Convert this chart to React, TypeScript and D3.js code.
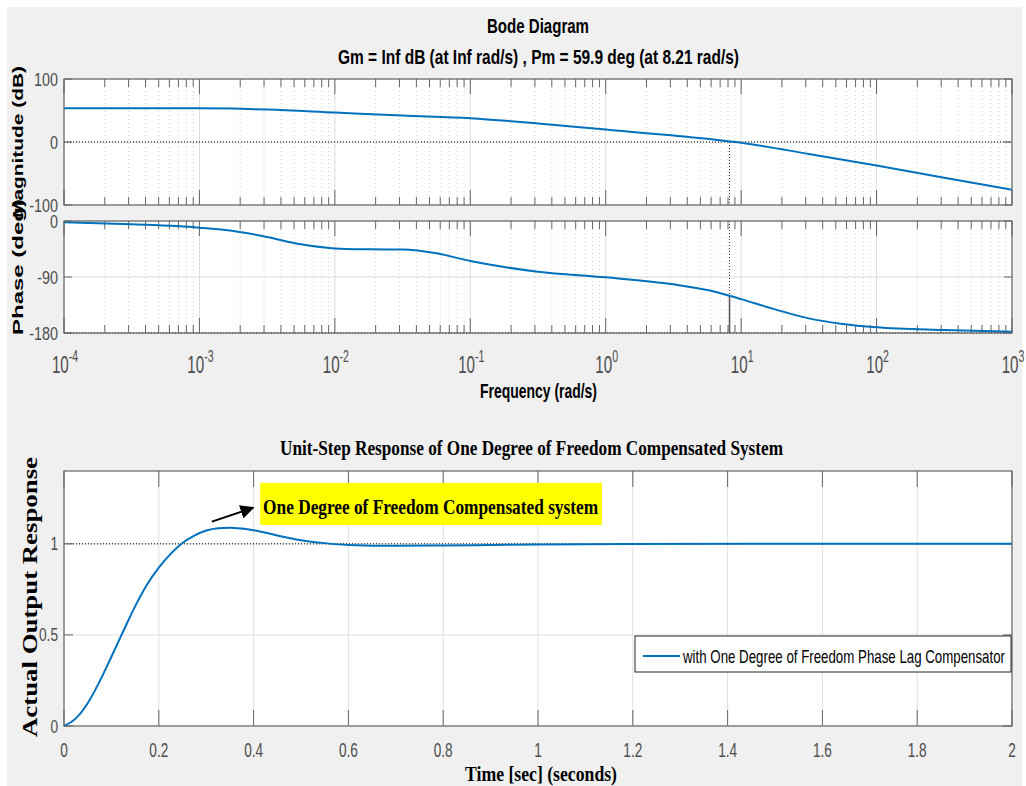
import React from 'react';
import * as d3 from 'd3';

// Bode magnitude (rad/s -> dB)
const magFreq = [1e-4, 3.16e-4, 1e-3, 1.78e-3, 3.16e-3, 1e-2, 3.16e-2, 1e-1, 3.16e-1, 1, 3.16, 10, 31.6, 100, 316, 1000];
const magDb = [53.6, 53.6, 53.5, 53.0, 51.6, 46.8, 42.0, 37.8, 29.5, 19.8, 10.3, -1.3, -18.9, -37.3, -56.8, -75.9];

// Bode phase (rad/s -> deg)
const phaseFreq = [1e-4, 3.16e-4, 1e-3, 1.78e-3, 3.16e-3, 5.62e-3, 1e-2, 1.78e-2, 3.16e-2, 5.62e-2, 1e-1, 1.78e-1, 3.16e-1, 1, 3.16, 5.62, 8.21, 10, 17.8, 31.6, 56.2, 100, 316, 1000];
const phaseDeg = [-2.1, -5.4, -10.7, -16, -25.7, -37.5, -44, -45.5, -46, -52, -64.3, -74, -81.5, -90.5, -101.8, -110.9, -120.1, -125.5, -142, -156.5, -165.5, -170.9, -175.2, -177.9];

// phase margin point
const pmFreq = 8.21;
const pmPhase = -120.1;

const magTicks = [-100, 0, 100];
const phaseTicks = [0, -90, -180];
const decadeExps = [-4, -3, -2, -1, 0, 1, 2, 3];

// unit-step response (seconds -> output)
const stepT = [0, 0.025, 0.05, 0.075, 0.1, 0.125, 0.15, 0.175, 0.2, 0.225, 0.25, 0.275, 0.3, 0.325, 0.35, 0.375, 0.4, 0.45, 0.5, 0.55, 0.6, 0.7, 0.8, 0.9, 1.0, 1.2, 1.5, 2.0];
const stepY = [0, 0.042, 0.125, 0.244, 0.38, 0.52, 0.657, 0.776, 0.87, 0.945, 1.005, 1.045, 1.073, 1.086, 1.089, 1.084, 1.075, 1.046, 1.02, 1.004, 0.994, 0.989, 0.991, 0.994, 0.997, 0.999, 1.0, 1.0];
const stepXTicks = [0, 0.2, 0.4, 0.6, 0.8, 1, 1.2, 1.4, 1.6, 1.8, 2];
const stepYTicks = [0, 0.5, 1];

const bodeTitle = 'Bode Diagram';
const bodeSubtitle = 'Gm = Inf dB (at Inf rad/s) ,  Pm = 59.9 deg (at 8.21 rad/s)';
const stepTitle = 'Unit-Step Response of One Degree of Freedom Compensated System';
const annotation = 'One Degree of Freedom Compensated system';
const legendLabel = 'with One Degree of Freedom Phase Lag Compensator';

const sans = "'Liberation Sans', Arial, sans-serif";
const serif = "'Liberation Serif', 'Times New Roman', serif";
const blue = '#0072bd';
const tickCol = '#4d4d4d';
const boxCol = '#666';

// horizontally squeezed label, like the narrow glyphs in the picture
function Squeezed(props: { x: number; y: number; sx: number; size: number; anchor?: string; fill?: string; width?: number; children: React.ReactNode }) {
  const { x, y, sx, size, anchor = 'middle', fill = tickCol, width, children } = props;
  const extra = width ? { textLength: width / sx, lengthAdjust: 'spacingAndGlyphs' } : {};
  return (
    <text transform={`translate(${x},${y}) scale(${sx},1)`} textAnchor={anchor} fontFamily={sans} fontSize={size} fill={fill} {...extra}>
      {children}
    </text>
  );
}

export default function App() {
  const L = 64, R = 1012;
  const fx = d3.scaleLog().domain([1e-4, 1e3]).range([L, R]);
  const my = d3.scaleLinear().domain([-100, 100]).range([205, 79]);
  const py = d3.scaleLinear().domain([-180, 0]).range([333, 221]);
  const sx = d3.scaleLinear().domain([0, 2]).range([L, R]);
  const sy = d3.scaleLinear().domain([0, 1.4]).range([726, 471]);

  const minorFreqs: number[] = [];
  for (let e = -4; e < 3; e++) for (let k = 2; k <= 9; k++) minorFreqs.push(k * Math.pow(10, e));
  const majorFreqs = decadeExps.map(e => Math.pow(10, e));

  const magLine = d3.line<number>().x((_, i) => fx(magFreq[i])).y(d => my(d)).curve(d3.curveMonotoneX);
  const phaseLine = d3.line<number>().x((_, i) => fx(phaseFreq[i])).y(d => py(d)).curve(d3.curveMonotoneX);
  const stepLine = d3.line<number>().x((_, i) => sx(stepT[i])).y(d => sy(d)).curve(d3.curveMonotoneX);

  const bodePanel = (yScale: d3.ScaleLinear<number, number>, top: number, bottom: number, yTicks: number[], key: string) => (
    <g key={key}>
      <rect x={L} y={top} width={R - L} height={bottom - top} fill="#fff" />
      {minorFreqs.map((f, i) => (
        <line key={'mg' + i} x1={fx(f)} x2={fx(f)} y1={top} y2={bottom} stroke="#cfcfcf" strokeDasharray="1,3" />
      ))}
      {majorFreqs.map((f, i) => (
        <line key={'Mg' + i} x1={fx(f)} x2={fx(f)} y1={top} y2={bottom} stroke="#dcdcdc" />
      ))}
      {yTicks.map((t, i) => (
        <line key={'yg' + i} x1={L} x2={R} y1={yScale(t)} y2={yScale(t)} stroke="#dcdcdc" />
      ))}
      {minorFreqs.map((f, i) => (
        <g key={'mt' + i} stroke={boxCol}>
          <line x1={fx(f)} x2={fx(f)} y1={top} y2={top + 8} />
          <line x1={fx(f)} x2={fx(f)} y1={bottom} y2={bottom - 8} />
        </g>
      ))}
      {majorFreqs.map((f, i) => (
        <g key={'Mt' + i} stroke={boxCol}>
          <line x1={fx(f)} x2={fx(f)} y1={top} y2={top + 15} />
          <line x1={fx(f)} x2={fx(f)} y1={bottom} y2={bottom - 15} />
        </g>
      ))}
      {yTicks.map((t, i) => (
        <g key={'yt' + i}>
          <line x1={L} x2={L + 8} y1={yScale(t)} y2={yScale(t)} stroke={boxCol} />
          <line x1={R} x2={R - 8} y1={yScale(t)} y2={yScale(t)} stroke={boxCol} />
          <Squeezed x={L - 6} y={yScale(t) + 6.5} sx={0.8} size={18} anchor="end">{t}</Squeezed>
        </g>
      ))}
    </g>
  );

  return (
    <svg width={1026} height={786} style={{ position: 'absolute', left: 0, top: 0 }}>
      <rect x={0} y={0} width={1026} height={786} fill="#fff" />
      <rect x={7} y={7} width={1015} height={779} fill="#f0f0f0" />

      {/* Bode titles */}
      <text x={538} y={33} textAnchor="middle" fontFamily={sans} fontWeight="bold" fontSize={20} fill="#000" textLength={102} lengthAdjust="spacingAndGlyphs">{bodeTitle}</text>
      <text x={538.5} y={64} textAnchor="middle" fontFamily={sans} fontWeight="bold" fontSize={21} fill="#000" textLength={401} lengthAdjust="spacingAndGlyphs">{bodeSubtitle}</text>

      {bodePanel(my, 79, 205, magTicks, 'mag')}
      {bodePanel(py, 221, 333, phaseTicks, 'phase')}

      {/* margin reference lines */}
      <line x1={L} x2={R} y1={my(0)} y2={my(0)} stroke="#000" strokeDasharray="1,2" />
      <line x1={L} x2={R} y1={py(-180)} y2={py(-180)} stroke="#000" strokeDasharray="1,2" />
      <line x1={fx(pmFreq)} x2={fx(pmFreq)} y1={my(0)} y2={205} stroke="#333" strokeDasharray="1,2" />
      <line x1={fx(pmFreq)} x2={fx(pmFreq)} y1={221} y2={py(pmPhase)} stroke="#333" strokeDasharray="1,2" />
      <line x1={fx(pmFreq)} x2={fx(pmFreq)} y1={py(pmPhase)} y2={py(-180)} stroke="#555" strokeWidth={1.5} />

      <path d={magLine(magDb) || ''} fill="none" stroke={blue} strokeWidth={2} />
      <path d={phaseLine(phaseDeg) || ''} fill="none" stroke={blue} strokeWidth={2} />

      <rect x={L} y={79} width={R - L} height={126} fill="none" stroke={boxCol} strokeWidth={1.2} />
      <rect x={L} y={221} width={R - L} height={112} fill="none" stroke={boxCol} strokeWidth={1.2} />

      {/* frequency tick labels */}
      {decadeExps.map(e => (
        <Squeezed key={'fx' + e} x={fx(Math.pow(10, e)) + 1} y={373} sx={0.66} size={23}>
          <tspan>10</tspan>
          <tspan dy={-11} fontSize={16}>{e}</tspan>
        </Squeezed>
      ))}
      <text x={538.5} y={398} textAnchor="middle" fontFamily={sans} fontWeight="bold" fontSize={20} fill="#000" textLength={117} lengthAdjust="spacingAndGlyphs">Frequency  (rad/s)</text>

      <text transform="translate(23,142) rotate(-90)" textAnchor="middle" fontFamily={sans} fontWeight="bold" fontSize={15} fill="#000" textLength={152} lengthAdjust="spacingAndGlyphs">Magnitude (dB)</text>
      <text transform="translate(23,267) rotate(-90)" textAnchor="middle" fontFamily={sans} fontWeight="bold" fontSize={15} fill="#000" textLength={136} lengthAdjust="spacingAndGlyphs">Phase (deg)</text>

      {/* step response */}
      <text x={531.5} y={455} textAnchor="middle" fontFamily={serif} fontWeight="bold" fontSize={21} fill="#000" textLength={503} lengthAdjust="spacingAndGlyphs">{stepTitle}</text>
      <rect x={L} y={471} width={R - L} height={255} fill="#fff" />
      {stepXTicks.map((t, i) => (
        <g key={'sxg' + i}>
          <line x1={sx(t)} x2={sx(t)} y1={471} y2={726} stroke="#e0e0e0" />
          <line x1={sx(t)} x2={sx(t)} y1={471} y2={487} stroke={boxCol} />
          <line x1={sx(t)} x2={sx(t)} y1={726} y2={710} stroke={boxCol} />
          <Squeezed x={sx(t)} y={757} sx={0.68} size={20}>{t}</Squeezed>
        </g>
      ))}
      {stepYTicks.map((t, i) => (
        <g key={'syg' + i}>
          <line x1={L} x2={R} y1={sy(t)} y2={sy(t)} stroke="#e0e0e0" />
          <line x1={L} x2={L + 9} y1={sy(t)} y2={sy(t)} stroke={boxCol} />
          <line x1={R} x2={R - 9} y1={sy(t)} y2={sy(t)} stroke={boxCol} />
          <Squeezed x={L - 6} y={sy(t) + 6.5} sx={0.72} size={19} anchor="end">{t}</Squeezed>
        </g>
      ))}
      <line x1={L} x2={R} y1={sy(1)} y2={sy(1)} stroke="#000" strokeDasharray="1,2" />
      <path d={stepLine(stepY) || ''} fill="none" stroke={blue} strokeWidth={2} />
      <rect x={L} y={471} width={R - L} height={255} fill="none" stroke={boxCol} strokeWidth={1.2} />

      {/* annotation */}
      <rect x={sx(0.414)} y={sy(1.335)} width={sx(1.135) - sx(0.414)} height={sy(1.104) - sy(1.335)} fill="#ffff00" />
      <text x={sx(0.42)} y={sy(1.165)} fontFamily={serif} fontWeight="bold" fontSize={22} fill="#000" textLength={335} lengthAdjust="spacingAndGlyphs">{annotation}</text>
      <defs>
        <marker id="arr" viewBox="0 0 10 10" refX={9} refY={5} markerWidth={7} markerHeight={7} orient="auto">
          <path d="M0,0 L10,5 L0,10 Z" fill="#000" />
        </marker>
      </defs>
      <line x1={sx(0.312)} y1={sy(1.122)} x2={sx(0.399)} y2={sy(1.198)} stroke="#000" strokeWidth={2} markerEnd="url(#arr)" />

      {/* legend */}
      <rect x={635} y={636} width={376} height={36} fill="#fff" stroke="#262626" strokeWidth={1} />
      <line x1={643} x2={680} y1={656} y2={656} stroke={blue} strokeWidth={2} />
      <Squeezed x={683} y={663} sx={0.74} size={18} anchor="start" fill="#000" width={322}>{legendLabel}</Squeezed>

      <text transform="translate(37,597) rotate(-90)" textAnchor="middle" fontFamily={serif} fontWeight="bold" fontSize={21} fill="#000" textLength={280} lengthAdjust="spacingAndGlyphs">Actual Output Response</text>
      <text x={541} y={781} textAnchor="middle" fontFamily={serif} fontWeight="bold" fontSize={22} fill="#000" textLength={152} lengthAdjust="spacingAndGlyphs">Time [sec]  (seconds)</text>
    </svg>
  );
}
